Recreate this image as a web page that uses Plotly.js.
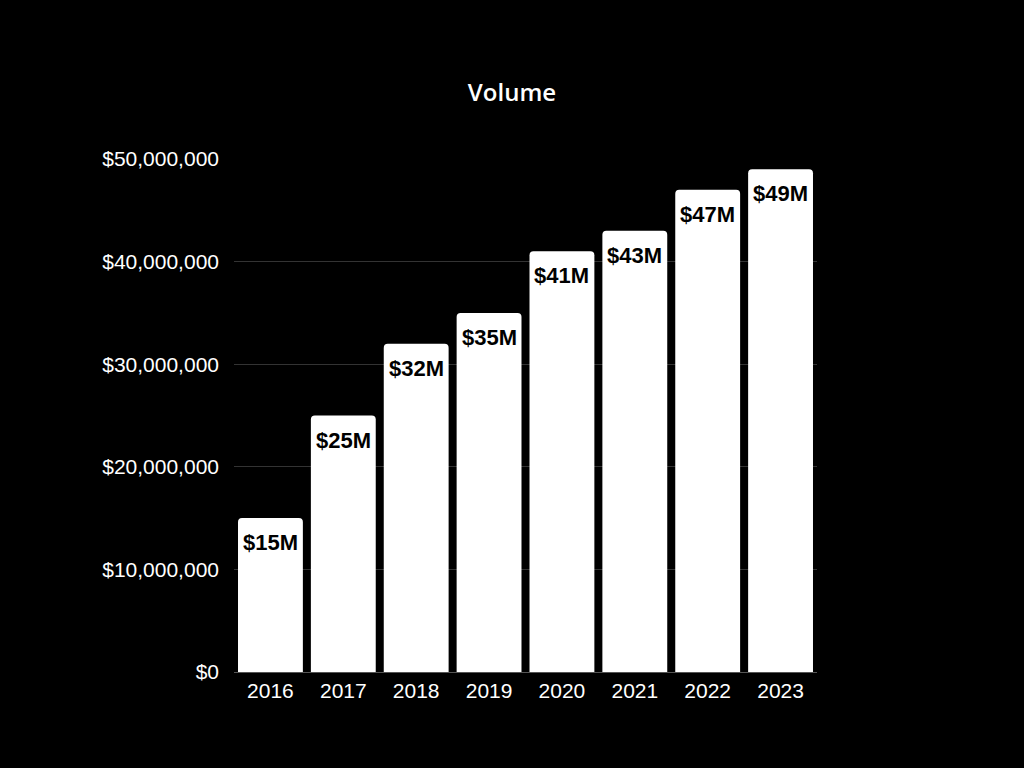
<!DOCTYPE html>
<html><head><meta charset="utf-8">
<script src="https://cdn.plot.ly/plotly-3.0.1.min.js"></script>
<style>html,body{margin:0;padding:0;background:#000;}#chart{width:1024px;height:768px;}</style>
</head><body><div id="chart"></div>
<script>
const years = ['2016','2017','2018','2019','2020','2021','2022','2023'];
const volume = [15000000, 25000000, 32000000, 35000000, 41000000, 43000000, 47000000, 49000000];
const labels = ['$15M','$25M','$32M','$35M','$41M','$43M','$47M','$49M'];

const trace = {
  type: 'bar', x: years, y: volume,
  marker: {color: '#ffffff'}, hoverinfo: 'none'
};
// annotation x uses the category index of each year
const annotations = years.map((yr, i) => ({
  x: i, y: volume[i], xref: 'x', yref: 'y', text: labels[i], showarrow: false,
  yanchor: 'top', yshift: -10,
  font: {family: 'Liberation Sans, Arial, sans-serif', size: 22, color: '#000', weight: 'bold'}
}));
const layout = {
  width: 1024, height: 768,
  paper_bgcolor: '#000', plot_bgcolor: '#000',
  margin: {l: 234, r: 207, t: 159, b: 96},
  bargap: 0.11, barcornerradius: 4,
  title: {text: 'Volume', x: 0.5, xanchor: 'center', y: 0.88, yanchor: 'middle',
    font: {family: 'Open Sans, sans-serif', size: 24, color: '#fff', weight: 600}},
  showlegend: false,
  annotations: annotations,
  xaxis: {type: 'category', range: [-0.5, years.length - 0.5], autorange: false,
    tickfont: {family: 'Liberation Sans, Arial, sans-serif', size: 21, color: '#fff'},
    showgrid: false, showline: true, linecolor: '#555', linewidth: 1, ticks: '', ticklen: 0},
  yaxis: {range: [0, 50000000], tickvals: [0,10000000,20000000,30000000,40000000,50000000],
    ticktext: ['$0','$10,000,000','$20,000,000','$30,000,000','$40,000,000','$50,000,000'],
    tickfont: {family: 'Liberation Sans, Arial, sans-serif', size: 21, color: '#fff'},
    gridcolor: '#333', gridwidth: 1, zeroline: false, showline: false, ticks: '', ticklabelstandoff: 14}
};
Plotly.newPlot('chart', [trace], layout, {displayModeBar: false, staticPlot: true});
</script></body></html>
